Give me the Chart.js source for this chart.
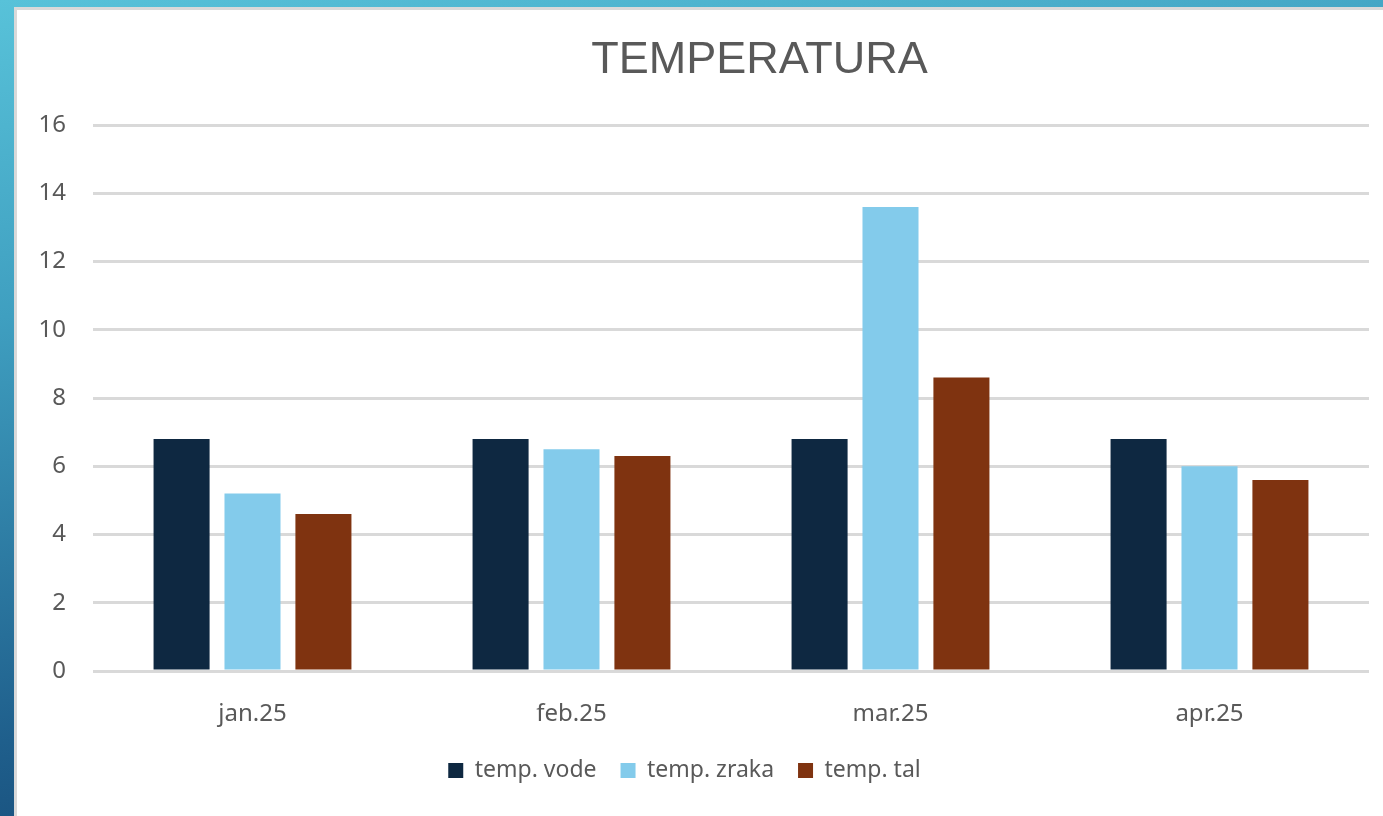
<!DOCTYPE html>
<html>
<head>
<meta charset="utf-8">
<script src="https://cdn.jsdelivr.net/npm/chart.js@4"></script>
<style>
  html, body { margin: 0; padding: 0; }
  body {
    width: 1383px; height: 816px; overflow: hidden; position: relative;
    background: linear-gradient(170deg, #58c2d9 0%, #3f9fc0 30%, #1f5f8c 70%, #0f3966 100%);
  }
  #panel {
    position: absolute; left: 14px; top: 7px; right: 0; bottom: 0;
    background: #fff; border-left: 3px solid #d9d9d9; border-top: 3px solid #d9d9d9;
  }
  #wrap { position: absolute; left: 0; top: 0; width: 1383px; height: 816px; }
</style>
</head>
<body>
<div id="panel"></div>
<div id="wrap"><canvas id="barChart" width="1383" height="816"></canvas></div>
<script>
var months = ["jan.25", "feb.25", "mar.25", "apr.25"]
var tempVode = [6.8, 6.8, 6.8, 6.8]
var tempZraka = [5.2, 6.5, 13.6, 6.0]
var tempTal = [4.6, 6.3, 8.6, 5.6]
var yTicks = [0, 2, 4, 6, 8, 10, 12, 14, 16]

var fontFamily = "'Noto Sans', 'Open Sans', sans-serif"
var textColor = '#595959'

function makeSet(label, data, color){
    return {
        label: label,
        data: data,
        backgroundColor: color,
        borderWidth: 0,
        barPercentage: 0.79,
        categoryPercentage: 0.667
    };
}

// title in the original sits right of centre
var shiftTitle = {
    id: 'shiftTitle',
    afterLayout: function(chart){
        if(chart.titleBlock){
            chart.titleBlock.left += 150;
        }
    }
};

var ctx = document.getElementById("barChart").getContext('2d');
var chart = new Chart(ctx, {
    type: 'bar',
    data: {
        labels: months,
        datasets: [
            makeSet("temp. vode", tempVode, '#0e2841'),
            makeSet("temp. zraka", tempZraka, '#83cbeb'),
            makeSet("temp. tal", tempTal, '#7f3310')
        ]
    },
    plugins: [shiftTitle],
    options: {
        responsive: false,
        animation: false,
        layout: { padding: { left: 0, right: 14, top: 0, bottom: 24 } },
        plugins: {
            title: {
                display: true,
                text: 'TEMPERATURA',
                color: textColor,
                font: { family: "'Liberation Sans', Arial, sans-serif", size: 45, weight: 'normal' },
                padding: { top: 34, bottom: 37 }
            },
            legend: {
                position: 'bottom',
                labels: {
                    color: textColor,
                    font: { family: fontFamily, size: 23 },
                    boxWidth: 15,
                    boxHeight: 15,
                    padding: 24
                }
            },
            tooltip: { enabled: false }
        },
        scales: {
            x: {
                grid: { display: false, drawTicks: false },
                border: { display: false },
                ticks: { color: textColor, font: { family: fontFamily, size: 24 }, padding: 29 },
                afterFit: function(scale){ scale.height = 64; }
            },
            y: {
                min: 0,
                max: 16,
                afterBuildTicks: function(scale){ scale.ticks = yTicks.map(function(v){ return { value: v }; }); },
                grid: { color: '#d9d9d9', lineWidth: 3, drawTicks: false },
                border: { display: false },
                ticks: { color: textColor, font: { family: fontFamily, size: 24 }, padding: 27 },
                afterFit: function(scale){ scale.width = 93; }
            }
        }
    }
});
</script>
</body>
</html>
